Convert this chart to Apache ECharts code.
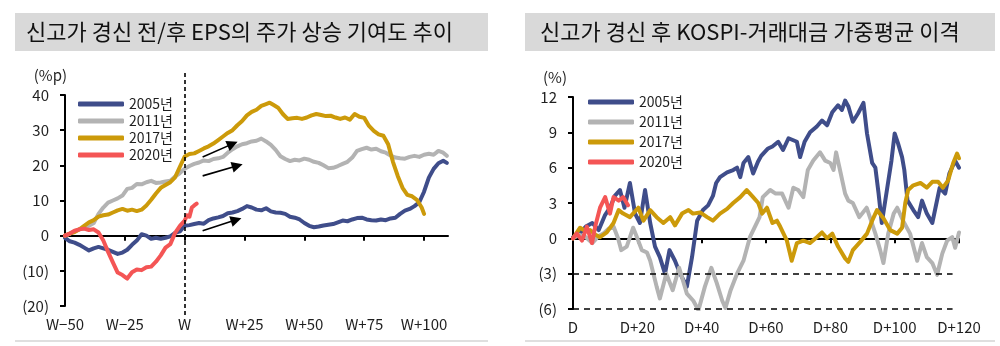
<!DOCTYPE html>
<html>
<head>
<meta charset="utf-8">
<script src="https://cdn.jsdelivr.net/npm/echarts@6/dist/echarts.min.js"></script>
<style>
  html, body { margin: 0; padding: 0; background: #ffffff; }
  #chart { width: 1000px; height: 346px; }
</style>
</head>
<body>
<div id="chart"></div>
<script>
// ---- shared series info ----
const seriesNames = ['2005년', '2011년', '2017년', '2020년'];
const seriesColors = ['#3F4D8A', '#B3B3B3', '#CC9A0A', '#F45555'];

// ---- left panel: EPS contribution to price gain, weeks around the new high (W) ----
const leftTitle = '신고가 경신 전/후 EPS의 주가 상승 기여도 추이';
const leftUnit = '(%p)';
const weekTicks = [-50, -25, 0, 25, 50, 75, 100];

const eps2005 = [
  [-50, -0.6], [-48, -1.6], [-46, -2.0], [-44, -2.6], [-42, -3.4], [-40, -4.2], [-38, -3.6], [-36, -3.2],
  [-34, -3.6], [-32, -4.0], [-30, -4.6], [-28, -5.2], [-26, -4.8], [-24, -4.0], [-22, -2.6], [-20, -1.4],
  [-18, 0.4], [-16, 0.0], [-14, -0.9], [-12, -0.6], [-10, -0.9], [-8, -0.6], [-6, -0.2], [-4, 0.8],
  [-2, 1.2], [0, 2.8], [2, 3.0], [4, 3.3], [6, 3.6], [8, 3.4], [10, 4.4], [12, 4.9], [14, 5.2], [16, 5.6],
  [18, 6.4], [20, 6.6], [22, 7.0], [24, 7.6], [26, 8.4], [28, 8.0], [30, 7.4], [32, 7.2], [34, 7.8],
  [36, 6.9], [38, 6.6], [40, 6.5], [42, 6.2], [44, 5.4], [46, 5.1], [48, 4.6], [50, 3.6], [52, 2.8],
  [54, 2.4], [56, 2.6], [58, 2.9], [60, 3.1], [62, 3.3], [64, 3.8], [66, 4.3], [68, 4.1], [70, 4.6],
  [72, 5.0], [74, 5.1], [76, 4.6], [78, 4.4], [80, 4.3], [82, 4.6], [84, 4.4], [86, 4.9], [88, 5.1],
  [90, 6.2], [92, 7.1], [94, 7.6], [96, 8.4], [98, 9.5], [100, 12.5], [102, 16.5], [104, 19.0],
  [106, 20.6], [108, 21.3], [109.5, 20.7]
];
const eps2011 = [
  [-50, 0.0], [-48, 0.6], [-46, 1.2], [-44, 1.8], [-42, 2.0], [-40, 2.8], [-38, 3.6], [-36, 6.2],
  [-34, 8.0], [-32, 9.4], [-30, 10.0], [-28, 10.6], [-26, 11.4], [-24, 13.3], [-22, 13.6], [-20, 14.7],
  [-18, 14.6], [-16, 15.2], [-14, 15.6], [-12, 15.0], [-10, 15.1], [-8, 15.4], [-6, 15.6], [-4, 16.8],
  [-2, 17.8], [0, 19.0], [2, 19.8], [4, 20.4], [6, 20.8], [8, 21.4], [10, 21.2], [12, 21.8], [14, 22.0],
  [16, 22.4], [18, 23.6], [20, 24.6], [22, 25.4], [24, 26.0], [26, 26.3], [28, 26.8], [30, 27.0],
  [32, 27.6], [34, 26.8], [36, 25.8], [38, 24.4], [40, 22.6], [42, 21.8], [44, 21.2], [46, 21.6],
  [48, 21.4], [50, 21.9], [52, 21.6], [54, 21.0], [56, 20.7], [58, 20.0], [60, 19.2], [62, 19.3],
  [64, 19.8], [66, 20.4], [68, 21.0], [70, 22.2], [72, 24.1], [74, 24.6], [76, 25.0], [78, 24.5],
  [80, 24.7], [82, 24.0], [84, 23.6], [86, 22.8], [88, 22.2], [90, 22.0], [92, 21.9], [94, 22.4],
  [96, 22.7], [98, 22.4], [100, 23.0], [102, 23.3], [104, 23.0], [106, 24.1], [108, 23.6], [109.5, 22.7]
];
const eps2017 = [
  [-50, 0.0], [-48, 0.6], [-46, 1.0], [-44, 1.8], [-42, 2.8], [-40, 3.8], [-38, 4.4], [-36, 5.4],
  [-34, 5.8], [-32, 6.0], [-30, 6.6], [-28, 7.2], [-26, 7.6], [-24, 7.1], [-22, 7.4], [-20, 7.0],
  [-18, 7.4], [-16, 8.6], [-14, 10.2], [-12, 12.0], [-10, 13.6], [-8, 14.4], [-6, 15.2], [-4, 16.6],
  [-2, 19.6], [0, 22.5], [2, 23.2], [4, 23.4], [6, 24.1], [8, 24.8], [10, 25.4], [12, 26.2], [14, 27.2],
  [16, 28.2], [18, 29.2], [20, 30.0], [22, 31.4], [24, 32.6], [26, 34.2], [28, 35.2], [30, 35.8],
  [32, 36.9], [34, 37.4], [35.5, 37.8], [37, 37.2], [39, 36.4], [41, 34.6], [43, 33.2], [45, 33.4],
  [47, 33.5], [49, 33.2], [51, 33.6], [53, 34.2], [55, 34.6], [57, 34.3], [59, 34.0], [61, 34.1],
  [63, 33.6], [65, 33.2], [67, 33.6], [69, 33.0], [71, 34.6], [73, 33.8], [75, 33.5], [77, 31.2],
  [79, 29.8], [81, 28.8], [83, 28.4], [85, 26.0], [87, 21.0], [89, 17.0], [91, 13.6], [93, 11.6],
  [95, 11.2], [97, 10.2], [99, 8.0], [100, 6.2]
];
const eps2020 = [
  [-50, 0.0], [-48, 0.6], [-46, 1.4], [-44, 1.8], [-42, 2.0], [-40, 1.6], [-38, 1.8], [-36, 0.9],
  [-34, -1.4], [-32, -4.6], [-30, -7.6], [-28, -10.5], [-26, -11.2], [-24, -12.2], [-22, -10.4],
  [-20, -9.6], [-18, -9.8], [-16, -9.0], [-14, -8.8], [-12, -7.4], [-10, -5.6], [-8, -3.4], [-6, -2.4],
  [-4, 0.8], [-2, 2.8], [0, 4.3], [1, 5.8], [2, 5.4], [3, 8.0], [4, 8.6], [5, 9.1]
];
// trend arrows: [start, end] in (week, %p)
const trendArrows = [
  [[7.5, 22.4], [20, 26.1]],
  [[7.5, 17.0], [22, 19.9]],
  [[7.5, 1.4], [21.5, 4.5]]
];
const newHighWeek = 0;

// ---- right panel: KOSPI vs turnover-weighted average gap, days after the new high (D) ----
const rightTitle = '신고가 경신 후 KOSPI-거래대금 가중평균 이격';
const rightUnit = '(%)';
const dayTicks = [0, 20, 40, 60, 80, 100, 120];

const gap2005 = [
  [0, 0.1], [2, 0.4], [4, 1.0], [6, 1.3], [8, 0.7], [10, 2.0], [11.5, 2.6], [13, 3.6], [14.6, 4.1],
  [16, 2.6], [17.7, 4.7], [19.3, 2.1], [20.8, 1.3], [22.4, 4.1], [24, 1.3], [25.5, -0.7], [27, -1.6],
  [28.6, -3.0], [30, -1.0], [31.7, -1.9], [33.3, -3.0], [35.4, -4.1], [37, -1.6], [38.6, 1.5],
  [40.4, 2.4], [42, 2.8], [43.5, 3.6], [44.5, 4.7], [45.7, 5.2], [47.9, 5.6], [49.8, 5.8], [51, 6.0],
  [52, 5.2], [53, 6.4], [54.5, 6.9], [56, 5.5], [57.5, 6.5], [58.5, 7.0], [60.5, 7.6], [62, 7.8],
  [63.8, 8.2], [65.3, 7.5], [67, 8.5], [69.6, 8.2], [70.6, 6.9], [72, 8.2], [73.7, 9.0], [75.8, 9.5],
  [77.4, 10.0], [79, 9.6], [80.6, 10.7], [82.4, 11.3], [83.6, 10.9], [84.6, 11.7], [85.6, 11.2],
  [87, 9.9], [88.6, 10.6], [90.3, 11.5], [91.4, 8.9], [93, 6.4], [94, 6.0], [95, 3.8], [96, 1.3],
  [97.7, 4.3], [99, 6.6], [100, 8.9], [101, 8.1], [102.3, 6.9], [103, 5.8], [104, 3.2], [105.8, 2.4],
  [107.3, 1.8], [108.5, 3.2], [110, 2.1], [111.7, 1.3], [113, 3.0], [114, 4.3], [115.7, 3.8],
  [117, 5.5], [118.8, 6.6], [120, 6.0]
];
const gap2011 = [
  [0, 0.0], [2, 0.3], [4, 0.1], [6, -0.4], [8, 0.2], [9.4, 0.4], [11, 0.8], [12.6, 1.0], [14, 0.0],
  [15, -1.0], [16.7, -0.7], [18.7, 0.9], [20, 0.0], [21.4, -1.0], [23, -1.2], [24, -1.9], [26, -4.1],
  [27, -5.1], [29, -3.0], [31, -4.4], [33, -2.5], [35.4, -4.7], [37.4, -5.3], [39, -6.1], [41, -4.1],
  [43, -2.5], [44.7, -3.8], [46.4, -5.3], [47.4, -5.9], [49, -4.4], [51, -3.0], [53, -1.9], [55, 0.1],
  [58, 1.8], [59, 3.5], [61.3, 4.1], [63, 3.8], [65, 3.8], [67, 2.6], [68.5, 4.3], [70, 4.1],
  [71.6, 3.5], [73, 5.8], [74.7, 6.6], [76.8, 7.3], [78.4, 6.6], [80, 6.4], [81, 5.8], [81.8, 7.3],
  [83, 5.8], [84.6, 3.8], [85.6, 3.2], [87, 3.0], [89, 1.8], [91.3, 2.6], [94, 0.4], [95.5, -1.0],
  [96.5, -2.1], [98, 0.4], [99.7, 2.1], [100.8, 2.6], [102.6, 1.5], [104.8, 0.4], [107, -1.9],
  [108.5, -0.4], [110, -1.6], [111.7, -2.1], [113.2, -3.1], [114.8, -1.3], [116.3, -0.2], [117.9, 0.1],
  [118.8, -0.8], [120, 0.5]
];
const gap2017 = [
  [0, 0.0], [2.2, 0.9], [4, 0.6], [5.3, 0.7], [7, 0.3], [8.4, 0.1], [10.5, 0.5], [12.6, 1.3],
  [14.2, 2.4], [15.6, 2.1], [17.7, 1.8], [20.3, 2.6], [21.9, 1.5], [24, 2.4], [26, 1.8], [28.1, 1.3],
  [30.2, 1.8], [31.7, 1.1], [33.9, 2.1], [35.9, 2.4], [37.3, 2.1], [39.5, 2.2], [41.7, 1.8], [43.5, 1.5],
  [45.7, 2.1], [47.9, 2.5], [49.8, 3.0], [52, 3.5], [54, 4.1], [56, 3.5], [57.6, 3.0], [58.8, 2.1],
  [60.3, 2.6], [62, 1.3], [63.4, 1.5], [64.4, 1.0], [66.5, -0.2], [68, -1.9], [69.6, -0.4], [71.6, -0.2],
  [73.7, -0.4], [75.8, 0.1], [77.4, 0.5], [79, 0.0], [80.6, 0.4], [82.4, -0.7], [84.6, -1.7], [85.6, -2.0],
  [87, -1.0], [89.3, -0.3], [91.4, 0.4], [93, 1.5], [94.5, 2.4], [96.5, 1.7], [98.6, 0.7], [100.8, 0.4],
  [102.3, 0.9], [103.3, 3.0], [104.2, 4.1], [105.8, 4.5], [108, 4.7], [110, 4.3], [111.7, 4.8],
  [113.5, 4.8], [115, 4.3], [116.6, 4.9], [118.2, 6.4], [119.4, 7.2], [120, 6.8]
];
const gap2020 = [
  [0, 0.0], [1.2, 0.4], [2.8, -0.2], [4.3, 1.0], [5.9, -0.4], [6.9, 1.0], [8.4, 2.6], [10, 3.5],
  [11.5, 2.1], [12.6, 3.5], [14.2, 3.2], [15.6, 3.5], [17.1, 2.8]
];
const gapRefLevels = [-3, -6];
const gapRefEnd = 118;

// ---- helpers ----
const FONT = '"Noto Sans CJK KR", "Noto Sans", sans-serif';
const INK = '#1f1f1f';

function weekLabel(v) {
  if (v === 0) return 'W';
  return v < 0 ? 'W\u2212' + (-v) : 'W+' + v;
}
function dayLabel(v) {
  return v === 0 ? 'D' : 'D+' + v;
}
function bracketNeg(v) {
  return v < 0 ? '(' + (-v) + ')' : String(v);
}

function lineSeries(name, data, color, xi, yi) {
  return {
    name: name,
    type: 'line',
    xAxisIndex: xi,
    yAxisIndex: yi,
    data: data,
    showSymbol: false,
    symbol: 'none',
    smooth: false,
    lineStyle: { color: color, width: 4, cap: 'round', join: 'round' },
    itemStyle: { color: color },
    emphasis: { disabled: true },
    silent: true
  };
}

function zeroAxis(gridIndex, min, max, ticks) {
  return {
    type: 'value', gridIndex: gridIndex, min: min, max: max, position: 'bottom',
    axisLine: { show: true, onZero: true, lineStyle: { color: '#000', width: 2 } },
    axisTick: { show: true, inside: false, length: 5, customValues: ticks, lineStyle: { color: '#000', width: 2 } },
    axisLabel: { show: false },
    splitLine: { show: false }
  };
}
function labelAxis(gridIndex, min, max, ticks, fmt, margin) {
  return {
    type: 'value', gridIndex: gridIndex, min: min, max: max, position: 'bottom',
    axisLine: { show: false, onZero: false },
    axisTick: { show: false },
    axisLabel: { show: true, customValues: ticks, formatter: fmt, margin: margin,
                 fontFamily: FONT, fontSize: 15, color: INK },
    splitLine: { show: false }
  };
}
function valueYAxis(gridIndex, min, max, interval, unit, unitPad) {
  return {
    type: 'value', gridIndex: gridIndex, min: min, max: max, interval: interval,
    name: unit, nameLocation: 'end', nameGap: 12,
    nameTextStyle: { fontFamily: FONT, fontSize: 15, color: INK, align: 'right', padding: [0, unitPad, 0, 0] },
    axisLine: { show: true, onZero: false, lineStyle: { color: '#000', width: 2 } },
    axisTick: { show: true, inside: false, length: 5, lineStyle: { color: '#000', width: 2 } },
    axisLabel: { formatter: bracketNeg, margin: 16, fontFamily: FONT, fontSize: 15, color: INK },
    splitLine: { show: false }
  };
}
function legendAt(left, top, gap) {
  return {
    data: seriesNames, orient: 'vertical', left: left, top: top,
    itemWidth: 46, itemHeight: 5, itemGap: gap, icon: 'roundRect',
    selectedMode: false,
    textStyle: { fontFamily: FONT, fontSize: 14, color: INK }
  };
}

const chart = echarts.init(document.getElementById('chart'), null, { renderer: 'canvas' });

const leftData = [eps2005, eps2011, eps2017, eps2020];
const rightData = [gap2005, gap2011, gap2017, gap2020];

const series = [];
leftData.forEach((d, i) => series.push(lineSeries(seriesNames[i], d, seriesColors[i], 0, 0)));
rightData.forEach((d, i) => series.push(lineSeries(seriesNames[i], d, seriesColors[i], 3, 2)));

// trend arrows on the left panel
series.push({
  type: 'line', xAxisIndex: 0, yAxisIndex: 0, data: [], silent: true,
  markLine: {
    silent: true, animation: false,
    symbol: ['none', 'triangle'], symbolSize: 11,
    lineStyle: { color: '#000', width: 1.6, type: 'solid' },
    itemStyle: { color: '#000' },
    label: { show: false },
    emphasis: { disabled: true },
    data: trendArrows.map(a => [{ coord: a[0] }, { coord: a[1] }])
  }
});
// dashed marker at the week of the new high
series.push({
  type: 'line', xAxisIndex: 2, yAxisIndex: 1, data: [], silent: true,
  markLine: {
    silent: true, animation: false, symbol: ['none', 'none'],
    lineStyle: { color: '#000', width: 1.6, type: [4, 3] },
    label: { show: false },
    emphasis: { disabled: true },
    data: [{ xAxis: newHighWeek }]
  }
});
// dashed reference levels on the right panel
series.push({
  type: 'line', xAxisIndex: 3, yAxisIndex: 2, data: [], silent: true,
  markLine: {
    silent: true, animation: false, symbol: ['none', 'none'],
    lineStyle: { color: '#000', width: 1.5, type: [6, 5] },
    label: { show: false },
    emphasis: { disabled: true },
    data: gapRefLevels.map(v => [{ coord: [0, v] }, { coord: [gapRefEnd, v] }])
  }
});

const option = {
  animation: false,
  backgroundColor: '#ffffff',
  title: [
    { text: leftTitle, left: 26, top: 19, padding: 0,
      textStyle: { fontFamily: FONT, fontSize: 22, fontWeight: 'normal', color: '#111', lineHeight: 26 } },
    { text: rightTitle, left: 540, top: 19, padding: 0,
      textStyle: { fontFamily: FONT, fontSize: 22, fontWeight: 'normal', color: '#111', lineHeight: 26 } }
  ],
  graphic: [
    { type: 'rect', z: -10, silent: true, shape: { x: 15, y: 13, width: 473, height: 38 }, style: { fill: '#D9D9D9' } },
    { type: 'rect', z: -10, silent: true, shape: { x: 525, y: 13, width: 470, height: 38 }, style: { fill: '#D9D9D9' } },
    { type: 'line', silent: true, shape: { x1: 15, y1: 341, x2: 488, y2: 341 }, style: { stroke: '#BFBFBF', lineWidth: 1 } },
    { type: 'line', silent: true, shape: { x1: 525, y1: 341, x2: 995, y2: 341 }, style: { stroke: '#BFBFBF', lineWidth: 1 } }
  ],
  legend: [legendAt(73, 92, 3), legendAt(583, 90, 6)],
  grid: [
    { left: 65, top: 95, width: 383, height: 211 },
    { left: 65, top: 73, width: 383, height: 242 },
    { left: 573, top: 97, width: 386, height: 212 }
  ],
  xAxis: [
    zeroAxis(0, -50, 110, weekTicks),
    labelAxis(0, -50, 110, weekTicks, weekLabel, 11),
    { type: 'value', gridIndex: 1, min: -50, max: 110, show: false },
    zeroAxis(2, 0, 120, dayTicks),
    labelAxis(2, 0, 120, dayTicks, dayLabel, 11)
  ],
  yAxis: [
    valueYAxis(0, -20, 40, 10, leftUnit, -2),
    { type: 'value', gridIndex: 1, min: 0, max: 1, show: false },
    valueYAxis(2, -6, 12, 3, rightUnit, 6)
  ],
  series: series
};

chart.setOption(option);
</script>
</body>
</html>
